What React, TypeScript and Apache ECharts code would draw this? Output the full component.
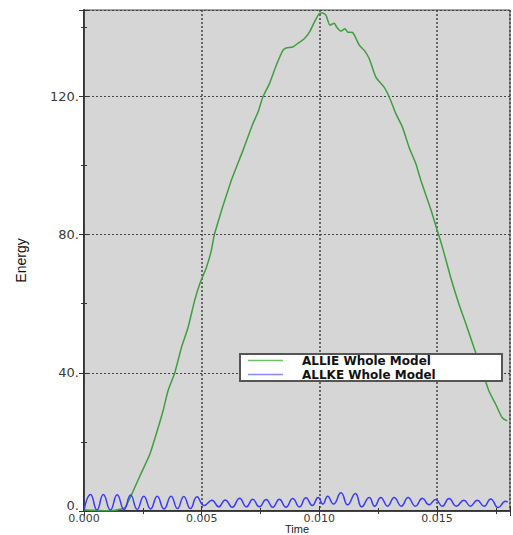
import React, { useEffect, useRef } from "react";
import * as echarts from "echarts";

const seriesNames = ["ALLIE Whole Model", "ALLKE Whole Model"];

const allieTime = [
  0, 0.0005, 0.001, 0.0014, 0.00174, 0.00209, 0.00244, 0.0028, 0.00315, 0.00336,
  0.00357, 0.00386, 0.00414, 0.00442, 0.0047, 0.00492, 0.0052, 0.00541, 0.00555, 0.00626,
  0.00675, 0.00717, 0.00739, 0.0076, 0.00788, 0.00817, 0.00845, 0.00859, 0.00887, 0.00908,
  0.00936, 0.00958, 0.00979, 0.01, 0.01014, 0.01028, 0.01045, 0.01064, 0.01073, 0.01092,
  0.01109, 0.0112, 0.01141, 0.01156, 0.0117, 0.01191, 0.01212, 0.0124, 0.01275, 0.01297,
  0.01325, 0.01353, 0.01381, 0.0141, 0.01431, 0.01473, 0.01501, 0.01523, 0.01558, 0.01593,
  0.01628, 0.01664, 0.01692, 0.0172, 0.01749, 0.01777, 0.01798,
];
const allieEnergy = [
  0.3, 0.2, 0.1, 0.3, 1.0, 5.8, 11.1, 16.5, 24.1, 29,
  34.8, 40.1, 47.3, 53.1, 60.9, 65.8, 70.5, 75.4, 80.3, 95.7,
  104.3, 112, 115.4, 119.8, 123.7, 129, 133.3, 134, 134.3, 135.3,
  136.7, 138.6, 141.5, 144, 144.1, 143.5, 140.6, 141.2, 140.1, 138.9,
  139.6, 138.6, 138.5, 136.7, 134.8, 133.3, 130.9, 125.6, 122.7, 119.8,
  115, 111.1, 105.3, 100.5, 95.7, 87.4, 81.2, 76.3, 67.6, 59.9,
  53.1, 45.9, 40.6, 34.8, 30.9, 27, 26.1,
];

const allkeTime = [
  0, 0.00028, 0.00055, 0.00082, 0.00112, 0.00141, 0.0017, 0.00198, 0.00226, 0.00254,
  0.00283, 0.00311, 0.0034, 0.0037, 0.00397, 0.00424, 0.00452, 0.0048, 0.0051, 0.00544,
  0.00572, 0.006, 0.0063, 0.00661, 0.0069, 0.00717, 0.00745, 0.00774, 0.00802, 0.0083,
  0.00858, 0.00887, 0.00915, 0.00943, 0.0097, 0.00995, 0.01015, 0.01035, 0.0106, 0.01092,
  0.0112, 0.01153, 0.0118, 0.01212, 0.01235, 0.01261, 0.0129, 0.01318, 0.01348, 0.01377,
  0.01408, 0.01438, 0.01466, 0.01494, 0.01522, 0.01551, 0.01582, 0.01614, 0.01642, 0.01671,
  0.017, 0.01728, 0.0176, 0.01791, 0.018,
];
const allkeEnergy = [
  0.3, 4.8, 0.3, 4.8, 0.3, 4.7, 0.4, 4.6, 0.5, 4.3,
  0.6, 4.3, 0.6, 4.3, 0.7, 4.2, 0.7, 4.1, 1.6, 3.1,
  1.2, 3.2, 1.1, 3.7, 1.2, 3.4, 1.2, 3.3, 1.1, 3.4,
  1.1, 3.6, 1.2, 3.8, 1.6, 3.9, 2.0, 4.3, 2.0, 5.3,
  1.8, 5.1, 1.2, 3.9, 1.4, 3.9, 1.4, 3.9, 1.4, 3.9,
  1.4, 3.7, 1.8, 3.3, 1.4, 3.6, 1.4, 3.1, 1.4, 3.1,
  1.4, 3.5, 1.0, 2.8, 2.6,
];

const yTicks = { min: 0, max: 145, interval: 40 };
const xTicks = { min: 0, max: 0.0181, interval: 0.005 };

const GREEN = "#3f9e3f";
const BLUE = "#3a3aff";

export default function App() {
  const ref = useRef<HTMLDivElement>(null);
  useEffect(() => {
    if (!ref.current) return;
    const chart = echarts.init(ref.current, undefined, { renderer: "svg" });
    const labelFont = { fontFamily: "DejaVu Sans", fontSize: 13, lineHeight: 12, color: "#3a3a3a" };
    const tickStyle = { color: "#333", width: 1 };
    const option: any = {
      animation: false,
      backgroundColor: "#ffffff",
      grid: {
        left: 84,
        right: 3,
        top: 10,
        bottom: 24,
        show: true,
        backgroundColor: "#d6d6d6",
        borderColor: "#444",
        borderWidth: 1,
        containLabel: false,
        outerBoundsMode: "none",
      },
      legend: {
        left: 240,
        top: 354,
        orient: "vertical",
        data: [
          { name: seriesNames[0], itemStyle: { color: "#6cc06c" } },
          { name: seriesNames[1], itemStyle: { color: "#8a8aff" } },
        ],
        icon: "rect",
        itemWidth: 35,
        itemHeight: 1.5,
        itemGap: 1,
        padding: [0, 12, 0, 8],
        backgroundColor: "#ffffff",
        borderColor: "#555",
        borderWidth: 2,
        borderRadius: 0,
        textStyle: {
          fontFamily: "DejaVu Sans",
          fontSize: 12,
          fontWeight: "bold",
          color: "#111",
          lineHeight: 13,
          width: 188,
          padding: [0, 0, 0, 14],
        },
      },
      xAxis: [
        {
          type: "value",
          min: xTicks.min,
          max: xTicks.max,
          interval: xTicks.interval,
          name: "Time",
          nameLocation: "middle",
          nameGap: 13.5,
          nameMoveOverlap: false,
          nameTextStyle: { fontFamily: "Liberation Sans", fontSize: 11, lineHeight: 9, color: "#222" },
          axisLine: { show: true, onZero: false, lineStyle: { color: "#333", width: 2 } },
          axisTick: { show: true, inside: true, length: 5, lineStyle: tickStyle },
          minorTick: { show: true, splitNumber: 2, length: 3, lineStyle: tickStyle },
          axisLabel: {
            ...labelFont,
            fontSize: 11,
            lineHeight: 10,
            margin: 2,
            showMaxLabel: false,
            formatter: (v: number) => v.toFixed(3),
          },
          splitLine: { show: true, lineStyle: { color: "#444", type: [2, 2], width: 1.5 } },
        },
        {
          type: "value",
          position: "top",
          min: xTicks.min,
          max: xTicks.max,
          interval: xTicks.interval,
          axisLine: { show: true, lineStyle: { color: "#444", width: 1 } },
          axisTick: { show: true, inside: true, length: 5, lineStyle: tickStyle },
          minorTick: { show: true, splitNumber: 2, length: 3, lineStyle: tickStyle },
          axisLabel: { show: false },
          splitLine: { show: false },
        },
      ],
      yAxis: [
        {
          type: "value",
          min: yTicks.min,
          max: yTicks.max,
          interval: yTicks.interval,
          name: "Energy",
          nameLocation: "middle",
          nameGap: 56,
          nameTextStyle: { fontFamily: "Liberation Sans", fontSize: 14, color: "#111" },
          axisLine: { show: true, lineStyle: { color: "#333", width: 2 } },
          axisTick: { show: true, inside: true, length: 5, lineStyle: tickStyle },
          minorTick: { show: true, splitNumber: 2, length: 3, lineStyle: tickStyle },
          axisLabel: {
            ...labelFont,
            margin: 5,
            showMaxLabel: false,
            formatter: (v: number) => (v === 0 ? "{z|0.}" : `${v}.`),
            rich: {
              z: {
                fontFamily: "DejaVu Sans",
                fontSize: 13,
                lineHeight: 10,
                color: "#3a3a3a",
                padding: [0, 0, 11, 0],
              },
            },
          },
          splitLine: { show: true, lineStyle: { color: "#444", type: [2, 2], width: 1 } },
        },
        {
          type: "value",
          position: "right",
          min: yTicks.min,
          max: yTicks.max,
          interval: yTicks.interval,
          axisLine: { show: true, lineStyle: { color: "#444", width: 1 } },
          axisTick: { show: true, inside: true, length: 5, lineStyle: tickStyle },
          minorTick: { show: true, splitNumber: 2, length: 3, lineStyle: tickStyle },
          axisLabel: { show: false },
          splitLine: { show: false },
        },
      ],
      series: [
        {
          name: seriesNames[0],
          type: "line",
          data: allieTime.map((t, i) => [t, allieEnergy[i]]),
          showSymbol: false,
          symbol: "none",
          smooth: 0.2,
          lineStyle: { color: GREEN, width: 1.5 },
          itemStyle: { color: GREEN },
        },
        {
          name: seriesNames[1],
          type: "line",
          data: allkeTime.map((t, i) => [t, allkeEnergy[i]]),
          showSymbol: false,
          symbol: "none",
          smooth: 0.5,
          lineStyle: { color: BLUE, width: 1.5 },
          itemStyle: { color: BLUE },
        },
      ],
    };
    chart.setOption(option);
    return () => chart.dispose();
  }, []);
  return (
    <div
      ref={ref}
      style={{ position: "fixed", left: 0, top: 0, width: 513, height: 535, background: "#fff" }}
    />
  );
}
